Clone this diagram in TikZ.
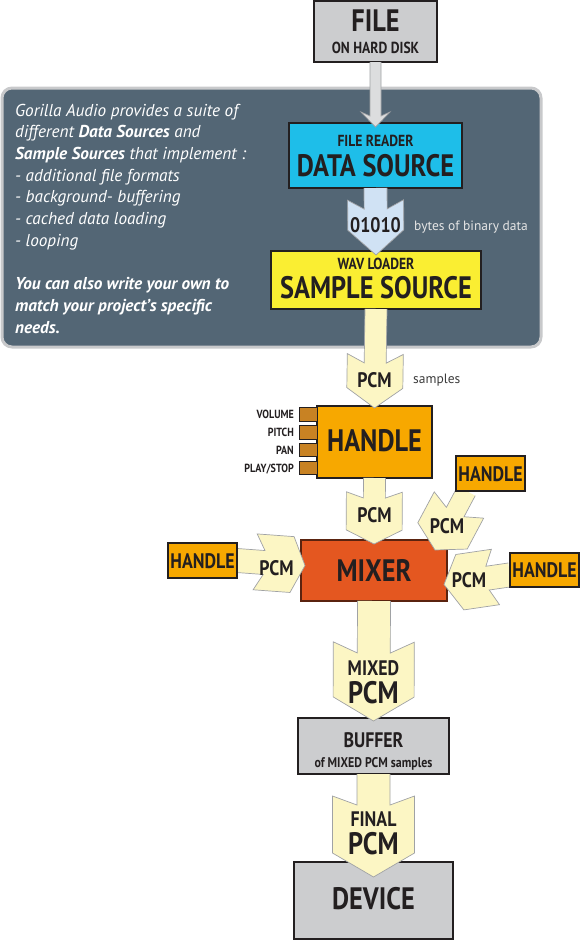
\documentclass[tikz,border=0pt]{standalone}
\usepackage{fontspec}
\setmainfont{PT Sans}
\newfontfamily\condfont[FakeStretch=0.85]{PT Sans}
\usetikzlibrary{calc}
\pgfdeclarelayer{front}
\pgfsetlayers{main,front}

\definecolor{ink}{RGB}{35,31,32}
\definecolor{panelfill}{RGB}{83,102,117}
\definecolor{panelline}{RGB}{200,201,203}
\definecolor{boxgray}{RGB}{204,205,207}
\definecolor{cyanbox}{RGB}{30,190,233}
\definecolor{yellowbox}{RGB}{250,238,50}
\definecolor{orangebox}{RGB}{247,168,0}
\definecolor{tabbrown}{RGB}{200,130,35}
\definecolor{mixerred}{RGB}{228,87,32}
\definecolor{mixerline}{RGB}{90,35,15}
\definecolor{pcmyellow}{RGB}{252,246,196}
\definecolor{bitblue}{RGB}{208,226,244}
\definecolor{diskgray}{RGB}{220,221,222}
\definecolor{arrowline}{RGB}{160,162,165}
\definecolor{notegray}{RGB}{60,60,60}

\newcommand\cfont[1]{\condfont\bfseries\fontsize{#1}{#1}\selectfont}

\tikzset{
  fat shaft/.store in=\fatS, fat head/.store in=\fatW,
  fat corner/.store in=\fatC, fat join/.store in=\fatJ,
  fat side/.store in=\fatT,
  fat shaft=11pt, fat head=28pt, fat corner=53pt, fat join=45pt, fat side=17pt,
}

\begin{document}
\begin{tikzpicture}[x=1pt, y=-1pt,
box/.style={draw=ink, line width=1.1pt, inner sep=0pt, outer sep=0pt},
panel/.style={draw=panelline, line width=3pt, fill=panelfill, rounded corners=10pt, inner sep=0pt},
tab/.style={box, fill=tabbrown, line width=.8pt, minimum width=18pt, minimum height=13.5pt},
txt/.style={inner sep=0pt, text=ink, text depth=0pt},
t31/.style={txt, font=\cfont{31}, text height=21.7pt},
t21/.style={txt, font=\cfont{21}, text height=14.7pt},
t16/.style={txt, font=\cfont{16}, text height=11.2pt},
t14/.style={txt, font=\cfont{14}, text height=9.8pt},
t12/.style={txt, font=\cfont{11.8}, text height=8.3pt},
blurb/.style={inner sep=0pt, text=white, font=\itshape\fontsize{17.2}{17.2}\selectfont, anchor=base west},
note/.style={inner sep=0pt, font=\fontsize{13.5}{13.5}\selectfont, anchor=base west},
small/.style={fat shaft=11pt, fat head=28pt, fat corner=53pt, fat join=45pt, fat side=17pt},
large/.style={fat shaft=16.5pt, fat head=40.5pt, fat corner=79pt, fat join=68pt, fat side=24pt},
fat/.style={fill=#1, draw=arrowline, line width=.7pt, line join=miter,
  to path={($(\tikztostart)!\fatS!-90:(\tikztotarget)$)
    -- ($(\tikztotarget)!\fatJ!(\tikztostart)!\fatS!90:(\tikztostart)$)
    -- ($(\tikztotarget)!\fatC!(\tikztostart)!\fatW!90:(\tikztostart)$)
    -- ($(\tikztotarget)!\fatT!(\tikztostart)!\fatW!90:(\tikztostart)$)
    -- (\tikztotarget)
    -- ($(\tikztotarget)!\fatT!(\tikztostart)!\fatW!-90:(\tikztostart)$)
    -- ($(\tikztotarget)!\fatC!(\tikztostart)!\fatW!-90:(\tikztostart)$)
    -- ($(\tikztotarget)!\fatJ!(\tikztostart)!\fatS!-90:(\tikztostart)$)
    -- ($(\tikztostart)!\fatS!90:(\tikztotarget)$)}},
]
\useasboundingbox (0,0) rectangle (580,940);

% panel with the sources
\node[panel, minimum width=539pt, minimum height=259pt] (panel) at (271.5,217.5) {};
\foreach \ypos/\line [count=\i] in {
  116/{Gorilla Audio provides a suite of},
  137.7/{different \textbf{Data Sources} and},
  159.4/{\textbf{Sample Sources} that implement :},
  181.1/{- additional file formats},
  202.8/{- background- buffering},
  224.5/{- cached data loading},
  246.2/{- looping},
  289.6/{\textbf{You can also write your own to}},
  311.3/{\textbf{match your project’s specific}},
  333/{\textbf{needs.}}}
  \node[blurb] (blurb\i) at (15,\ypos) {\line};

% boxes
\node[box, fill=boxgray, minimum width=123pt, minimum height=61pt] (file) at (375.5,31.5) {};
\node[box, fill=cyanbox, minimum width=173pt, minimum height=65pt] (datasrc) at (375.5,155.5) {};
\node[box, fill=yellowbox, minimum width=210pt, minimum height=58pt] (sample) at (376,280) {};
\node[box, fill=orangebox, minimum width=115pt, minimum height=72pt] (handle) at (374.5,442) {};
\foreach \lab [count=\i] in {VOLUME,PITCH,PAN,PLAY/STOP}
  \node[tab, label={[t12, label distance=5pt]left:\lab}] (tab\i) at (308,414.5+17.8*\i-17.8) {};
\node[box, fill=mixerred, draw=mixerline, minimum width=146pt, minimum height=61pt] (mixer) at (374,570.5) {};
\node[box, fill=boxgray, minimum width=151pt, minimum height=56pt] (buffer) at (373.5,746) {};
\node[box, fill=boxgray, minimum width=159pt, minimum height=77pt] (device) at (373.5,900.5) {};
\begin{pgfonlayer}{front}
\node[box, fill=orangebox, minimum width=69pt, minimum height=35pt] (handleTR) at (490.5,473.5) {};
\node[box, fill=orangebox, minimum width=69pt, minimum height=35pt] (handleL) at (202.5,560.5) {};
\node[box, fill=orangebox, minimum width=69pt, minimum height=34pt] (handleR) at (544.5,570) {};
\node[t21] (handleTRt) at (490.5,474) {HANDLE};
\node[t21] (handleLt) at (202.5,561) {HANDLE};
\node[t21] (handleRt) at (544.5,570.5) {HANDLE};
\end{pgfonlayer}

% arrow tips
\coordinate (tipdisk) at ($(datasrc.north)+(0,4)$);
\coordinate (tipbits) at ($(sample.north)+(0,4)$);
\coordinate (tipA) at ($(handle.north)+(0,2)$);
\coordinate (tipB) at ($(mixer.north)+(0,4)$);
\coordinate (tipTR) at ($(mixer.north east)+(-12,10)$);
\coordinate (tipL) at ($(mixer.west)+(4,-5)$);
\coordinate (tipR) at ($(mixer.east)+(-3,14)$);
\coordinate (tipmix) at ($(buffer.north)+(0,3)$);
\coordinate (tipfinal) at ($(device.north)+(0,15)$);

% arrows
\draw[fat=diskgray, fat shaft=5.5pt, fat head=14.5pt, fat corner=15pt, fat join=11pt, fat side=15pt] (file.south) to (tipdisk);
\draw[fat=bitblue, small, fat shaft=11.5pt, fat corner=55pt, fat join=46pt, fat side=25pt] (datasrc.south) to (tipbits);
\draw[fat=pcmyellow, small, fat corner=54pt, fat side=20pt] (sample.south) to (tipA);
\draw[fat=pcmyellow, small, fat corner=52pt, fat join=46pt, fat side=14pt] (handle.south) to (tipB);
\draw[fat=pcmyellow, small, fat shaft=10pt, fat corner=51pt, fat join=43pt, fat side=16pt] (handleTR.-144) to (tipTR);
\draw[fat=pcmyellow, small, fat shaft=12pt, fat corner=50pt, fat join=41pt, fat side=13pt] (handleL.east) to (tipL);
\draw[fat=pcmyellow, small, fat shaft=12pt, fat corner=52pt, fat join=44pt, fat side=16pt] (handleR.188) to (tipR);
\draw[fat=pcmyellow, large] (mixer.south) to (tipmix);
\draw[fat=pcmyellow, large, fat head=41pt, fat corner=81pt, fat join=72pt] (buffer.south) to (tipfinal);

% texts
\node[t31] (filet) at (375.5,21) {FILE};
\node[t16] (files) at (375.5,47.5) {ON HARD DISK};
\node[t16] (datasrcs) at (375.5,141) {FILE READER};
\node[t31] (datasrct) at (375.5,166) {DATA SOURCE};
\node[t21] (bits) at (375.5,225.5) {01010};
\node[note, text=white!90!black] (bitsnote) at (414,230) {bytes of binary data};
\node[t16] (samples) at (376,264) {WAV LOADER};
\node[t31] (samplet) at (376,287.5) {SAMPLE SOURCE};
\node[t21] (pcmA) at (374.5,380) {PCM};
\node[note, text=notegray] (pcmAnote) at (413,383.5) {samples};
\node[t31] (handlet) at (374.5,441) {HANDLE};
\node[t21] (pcmB) at (374.5,515.5) {PCM};
\node[t21] (pcmTR) at (447,526) {PCM};
\node[t21] (pcmL) at (276.5,568) {PCM};
\node[t21] (pcmR) at (469,580) {PCM};
\node[t31] (mixert) at (374,571) {MIXER};
\node[t21] (mixeds) at (373.5,668.5) {MIXED};
\node[t31] (mixedt) at (373.5,693) {PCM};
\node[t21] (buffert) at (373.5,740) {BUFFER};
\node[t14] (buffers) at (373.5,762.5) {of MIXED PCM samples};
\node[t21] (finals) at (373.5,819.5) {FINAL};
\node[t31] (finalt) at (373.5,843.5) {PCM};
\node[t31] (devicet) at (373.5,899) {DEVICE};
\end{tikzpicture}
\end{document}
